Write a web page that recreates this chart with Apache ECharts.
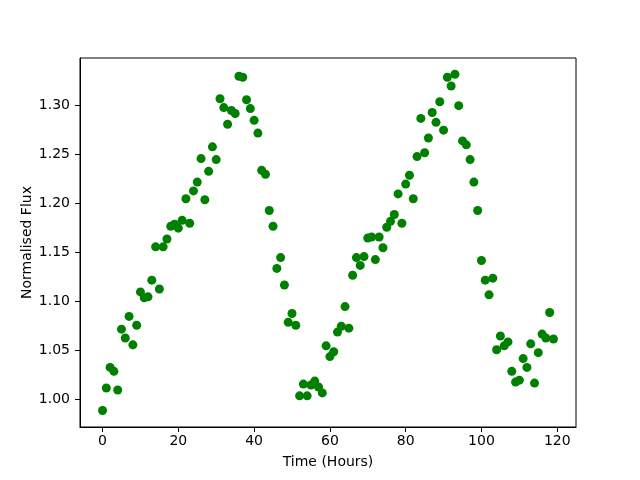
<!DOCTYPE html>
<html>
<head>
<meta charset="utf-8">
<script src="https://cdn.jsdelivr.net/npm/echarts@6/dist/echarts.min.js"></script>
<style>
  html, body { margin: 0; padding: 0; background: #fff; }
  #chart { width: 640px; height: 480px; }
</style>
</head>
<body>
<div id="chart"></div>
<script>
// observation times (hours)
const hours = [
  0, 1, 2, 3, 4, 5, 6, 7, 8, 9, 10, 11, 12, 13, 14, 15, 16, 17, 18, 19,
  20, 21, 22, 23, 24, 25, 26, 27, 28, 29, 30, 31, 32, 33, 34, 35, 36, 37, 38, 39,
  40, 41, 42, 43, 44, 45, 46, 47, 48, 49, 50, 51, 52, 53, 54, 55, 56, 57, 58, 59,
  60, 61, 62, 63, 64, 65, 66, 67, 68, 69, 70, 71, 72, 73, 74, 75, 76, 77, 78, 79,
  80, 81, 82, 83, 84, 85, 86, 87, 88, 89, 90, 91, 92, 93, 94, 95, 96, 97, 98, 99,
  100, 101, 102, 103, 104, 105, 106, 107, 108, 109, 110, 111, 112, 113, 114, 115, 116, 117, 118, 119
]

// normalised flux
const flux = [
  0.989, 1.012, 1.033, 1.029, 1.010, 1.072, 1.063, 1.085, 1.056, 1.076,
  1.110, 1.104, 1.105, 1.122, 1.156, 1.113, 1.156, 1.164, 1.177, 1.179,
  1.175, 1.183, 1.205, 1.180, 1.213, 1.222, 1.246, 1.204, 1.233, 1.258,
  1.245, 1.307, 1.298, 1.281, 1.295, 1.292, 1.330, 1.329, 1.306, 1.297,
  1.285, 1.272, 1.234, 1.230, 1.193, 1.177, 1.134, 1.145, 1.117, 1.079,
  1.088, 1.076, 1.004, 1.016, 1.004, 1.015, 1.019, 1.013, 1.007, 1.055,
  1.044, 1.049, 1.069, 1.075, 1.095, 1.073, 1.127, 1.145, 1.137, 1.146,
  1.165, 1.166, 1.143, 1.166, 1.155, 1.176, 1.182, 1.189, 1.210, 1.180,
  1.220, 1.229, 1.205, 1.248, 1.287, 1.252, 1.267, 1.293, 1.283, 1.304,
  1.275, 1.329, 1.320, 1.332, 1.300, 1.264, 1.260, 1.245, 1.222, 1.193,
  1.142, 1.122, 1.107, 1.124, 1.051, 1.065, 1.055, 1.059, 1.029, 1.018,
  1.020, 1.042, 1.033, 1.057, 1.017, 1.048, 1.067, 1.063, 1.089, 1.062
]

const xTicks = [0, 20, 40, 60, 80, 100, 120]
const yTicks = [1.00, 1.05, 1.10, 1.15, 1.20, 1.25, 1.30]

const points = hours.map((h, i) => [h, flux[i]])

const chart = echarts.init(document.getElementById('chart'))

const font = 'DejaVu Sans'

const option = {
  backgroundColor: '#fff',
  animation: false,
  grid: {
    left: 80,
    right: 64,
    top: 58,
    bottom: 53,
    show: true,
    borderColor: '#000',
    borderWidth: 1
  },
  xAxis: {
    type: 'value',
    min: -5.95,
    max: 124.95,
    name: 'Time (Hours)',
    nameLocation: 'middle',
    nameGap: 28,
    nameMoveOverlap: false,
    nameTextStyle: { fontFamily: font, fontSize: 14, color: '#000' },
    axisLine: { show: true, onZero: false, lineStyle: { color: '#000', width: 1 } },
    axisTick: { show: true, length: 5, lineStyle: { color: '#000' }, customValues: xTicks },
    axisLabel: {
      fontFamily: font, fontSize: 14, color: '#000', margin: 7,
      customValues: xTicks
    },
    splitLine: { show: false }
  },
  yAxis: {
    type: 'value',
    min: 0.9722,
    max: 1.3486,
    name: 'Normalised Flux',
    nameLocation: 'middle',
    nameGap: 46,
    nameMoveOverlap: false,
    nameTextStyle: { fontFamily: font, fontSize: 14, color: '#000' },
    axisLine: { show: true, onZero: false, lineStyle: { color: '#000', width: 1 } },
    axisTick: { show: true, length: 5, lineStyle: { color: '#000' }, customValues: yTicks },
    axisLabel: {
      fontFamily: font, fontSize: 14, color: '#000', margin: 10,
      customValues: yTicks,
      formatter: (v) => v.toFixed(2)
    },
    splitLine: { show: false }
  },
  series: [
    {
      type: 'scatter',
      data: points,
      symbol: 'circle',
      symbolSize: 9,
      itemStyle: { color: '#008000', opacity: 1 }
    }
  ]
}

option && chart.setOption(option)
</script>
</body>
</html>
